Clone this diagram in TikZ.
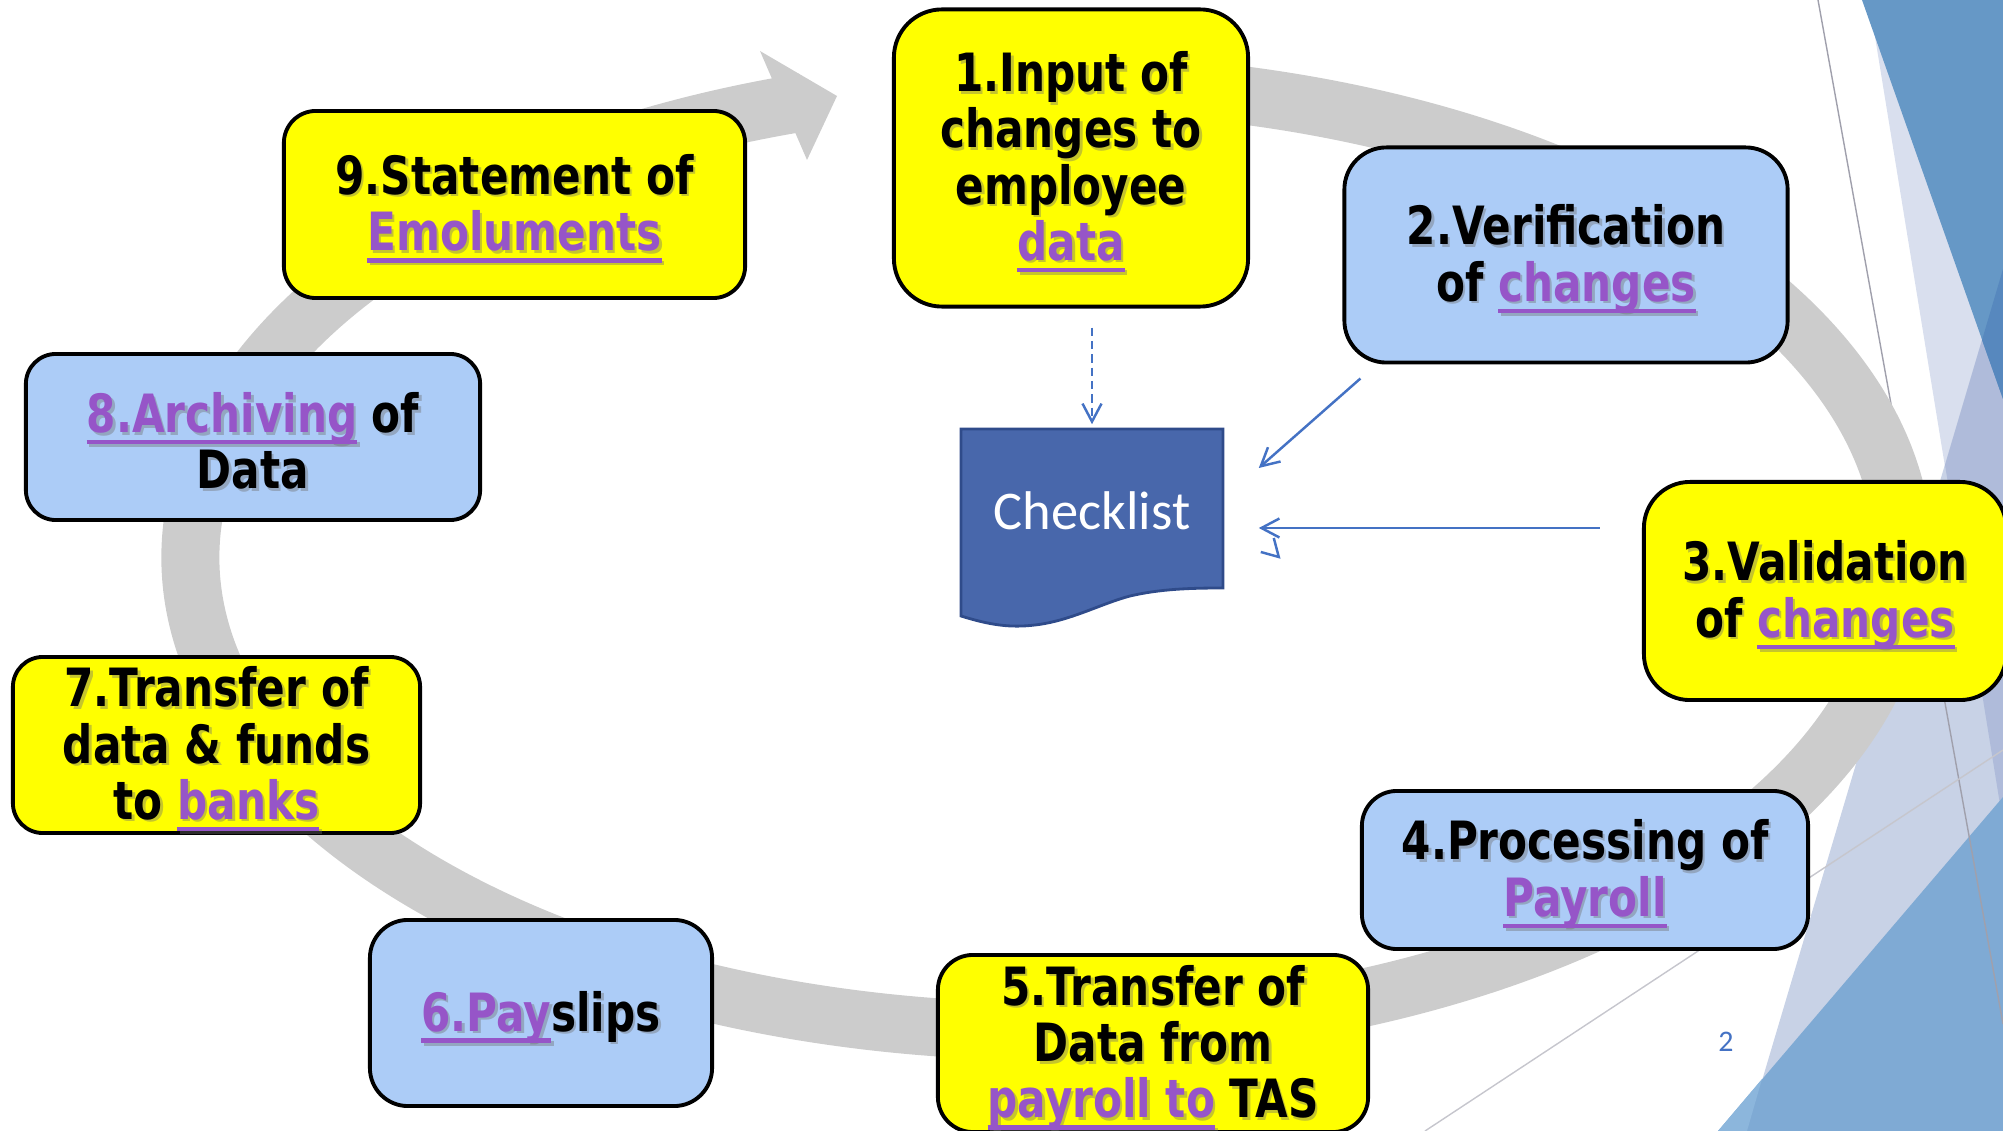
\documentclass[tikz,border=0pt]{standalone}
\usepackage{fontspec}
\usetikzlibrary{arrows.meta}

\newfontfamily\boxfont[FakeStretch=0.80]{DejaVu Sans}
\newfontfamily\calfont{Carlito}

\definecolor{ringGray}{RGB}{204,204,204}
\definecolor{stepYellow}{RGB}{255,255,0}
\definecolor{stepBlue}{RGB}{172,204,247}
\definecolor{linkPurple}{RGB}{150,85,200}
\definecolor{shadowGray}{RGB}{110,110,110}
\definecolor{arrowBlue}{RGB}{68,114,196}
\definecolor{checkFill}{RGB}{72,103,171}
\definecolor{checkEdge}{RGB}{47,75,138}
\definecolor{facetPale}{RGB}{217,223,238}
\definecolor{facetLilac}{RGB}{200,210,230}
\definecolor{facetMid}{RGB}{175,187,218}
\definecolor{facetDark}{RGB}{102,152,198}
\definecolor{facetDeep}{RGB}{87,136,190}
\definecolor{facetSky}{RGB}{127,170,212}
\definecolor{facetSkyLight}{RGB}{140,182,220}
\definecolor{lineGray}{RGB}{160,160,172}

\newcommand{\lnkcol}{linkPurple}
\newsavebox{\lnkbox}
\newcommand{\lnk}[1]{{\color{\lnkcol}\sbox{\lnkbox}{#1}%
  \rlap{\rule[-3.4pt]{\wd\lnkbox}{1.3pt}}\usebox{\lnkbox}}}

\begin{document}
\begin{tikzpicture}
[x=0.01cm,y=-0.01cm,
  yellowBox/.style={draw=black,line width=1.1pt,fill=stepYellow,inner sep=0pt},%
  blueBox/.style={yellowBox,fill=stepBlue},%
  stepText/.style={align=center,inner sep=0pt,font=\boxfont\bfseries\fontsize{15}{16}\selectfont},%
  stepShadow/.style={stepText,text=shadowGray,opacity=0.4,
    execute at begin node={\def\lnkcol{shadowGray}}},%
  ringLine/.style={draw=ringGray,line width=0.58cm},%
  blueLine/.style={draw=arrowBlue,line width=0.7pt},%
  blueArrow/.style={blueLine,-{Straight Barb[length=0.18cm,width=0.19cm]}},%
  facetLine/.style={line width=0.4pt}]
\useasboundingbox (0,0) rectangle (2003,1131);
%% facets on the right edge
\fill[facetPale] (1869,0) -- (2003,0) -- (2003,823) -- cycle;
\fill[facetLilac] (2003,269) -- (1747,1131) -- (2003,1131) -- cycle;
\fill[facetMid] (2003,269) -- (1945,465) -- (2003,823) -- cycle;
\fill[facetDark] (1862,0) -- (2003,0) -- (2003,399) -- cycle;
\fill[facetDeep] (2003,269) -- (1982,340) -- (2003,399) -- cycle;
\fill[facetSky] (2003,797) -- (1718,1131) -- (2003,1131) -- cycle;
\fill[facetSkyLight] (1718,1131) -- (1762,1079) -- (1747,1131) -- cycle;
\draw[facetLine,draw=lineGray] (1818,0) -- (2003,1024);
\draw[facetLine,draw=lineGray!60] (1425,1131) -- (2003,750);
%% the grey cycle arrow
\draw[ringLine] (1047,557) ++(80:8.56cm and 4.74cm)
  arc[start angle=80,end angle=-253.5,x radius=8.56cm,y radius=4.74cm];
\fill[ringGray] (760,51) -- (837,96) -- (807,160) -- cycle;
%% the nine steps
\foreach \nodename/\x/\y/\w/\h/\rad/\kind/\txt in {
  input/1071/158/3.54/2.97/0.48/yellowBox/{1.Input of\\changes to\\employee\\\lnk{data}},
  verify/1566/255/4.43/2.15/0.42/blueBox/{2.Verification\\of \lnk{changes}},
  validate/1825/591/3.62/2.18/0.46/yellowBox/{3.Validation\\of \lnk{changes}},
  process/1585/870/4.46/1.58/0.35/blueBox/{4.Processing of\\\lnk{Payroll}},
  transfer/1153/1043.5/4.30/1.77/0.35/yellowBox/{5.Transfer of\\Data from\\\lnk{payroll to} TAS},
  payslip/541/1013/3.42/1.86/0.38/blueBox/{\lnk{6.Pay}slips},
  bank/216.5/745/4.07/1.76/0.30/yellowBox/{7.Transfer of\\data \& funds\\to \lnk{banks}},
  archive/253/437/4.54/1.66/0.30/blueBox/{\lnk{8.Archiving} of\\Data},
  statement/514.5/204.5/4.61/1.87/0.32/yellowBox/{9.Statement of\\\lnk{Emoluments}}}
{
  \node (\nodename) at (\x,\y) [\kind,minimum width=\w cm,minimum height=\h cm,
    rounded corners=\rad cm] {};
  \node (\nodename-shadow) at ([shift={(2.5,6.5)}]\nodename.center) [stepShadow] {\txt};
  \node (\nodename-text) at ([shift={(0,4)}]\nodename.center) [stepText] {\txt};
}
%% the checklist
\filldraw[fill=checkFill,draw=checkEdge,line width=0.8pt] (961,429) -- (1223,429) -- (1223,588)
  .. controls (1190,588) and (1160,589) .. (1130,596)
  .. controls (1100,604) and (1070,621) .. (1035,625)
  .. controls (1010,628) and (990,625) .. (961,616) -- cycle;
\node (chk) at (1092,511) [minimum width=2.62cm,minimum height=1.64cm,inner sep=0pt,
  text=white,font=\calfont\fontsize{15.5}{18}\selectfont] {Checklist};
%% arrows into the checklist
\draw[blueArrow,dash pattern=on 2.4pt off 1.4pt,shorten <=0.19cm,shorten >=0.04cm]
  (chk.north |- input.south) -- (chk.north);
\draw[blueArrow] ([shift={(18,14)}]verify.south west) -- ([shift={(35,-43)}]chk.east);
\draw[blueArrow] ([shift={(-42,-63)}]validate.west) -- ([shift={(35,17)}]chk.east);
\draw[blueLine] ([shift={(50,27)}]chk.east) -- ++(5,19) -- ++(-18,-5);
%% slide number
\node (pagenum) at (1726,1042) [text=arrowBlue,font=\calfont\fontsize{8.5}{10}\selectfont] {2};
\end{tikzpicture}
\end{document}
